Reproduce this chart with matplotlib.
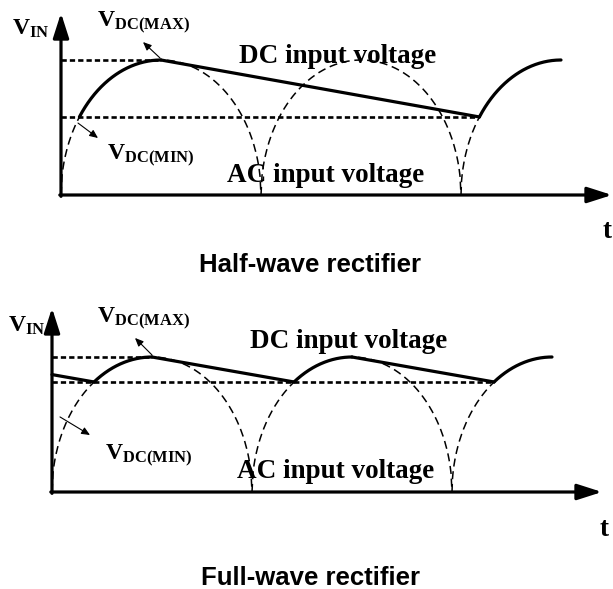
import numpy as np
import matplotlib
matplotlib.use('Agg')
import matplotlib.pyplot as plt

plt.rcParams['mathtext.fontset'] = 'custom'
plt.rcParams['mathtext.rm'] = 'Liberation Serif:bold'
plt.rcParams['mathtext.default'] = 'rm'
plt.rcParams['lines.scale_dashes'] = False

# time in half-cycles of the mains, voltage normalised to the peak
v_peak = 1.0
arch_starts = [0, 1, 2]      # start of each rectified half-sine drawn
t_end = 2.5                  # waveform drawn up to the 3rd peak

# half-wave: cap charged on humps 0 and 2, discharges in between
half_vmin = 0.578
half_charge_arches = [0, 2]
half_discharge_from = [None, 0.5]    # peak the cap discharges from (None = none shown)
# full-wave: cap recharged on every hump
full_vmin = 0.815
full_charge_arches = [0, 1, 2]
full_discharge_from = [-0.5, 0.5, 1.5]

fig = plt.figure(figsize=(6.13, 5.89), dpi=100)


def hump(t0, ta, tb):
    # one rectified half-cycle, drawn as a half-ellipse like the reference
    t = np.linspace(ta, tb, 200)
    u = np.clip(2 * (t - t0 - 0.5), -1, 1)
    return t, v_peak * np.sqrt(1 - u ** 2)


def crossing(t0, level):
    # rising edge of hump t0 reaching the given level
    return t0 + 0.5 - 0.5 * np.sqrt(1 - (level / v_peak) ** 2)


def panel(ax, vmin, charges, discharges, ymax_tip, xmax_tip):
    ax.set_axis_off()
    ax.patch.set_alpha(0)
    # AC input (dashed humps)
    for t0 in arch_starts:
        t, v = hump(t0, t0, min(t0 + 1, t_end))
        ax.plot(t, v, color='k', lw=1.1, dashes=(5.8, 3.4), zorder=2)
    # DC max / DC min reference lines
    ax.plot([0, 0.5], [v_peak, v_peak], color='k', lw=1.9, dashes=(3.8, 2.2), zorder=2)
    t_last = crossing(charges[-1], vmin)
    ax.plot([0, t_last], [vmin, vmin], color='k', lw=1.9, dashes=(3.8, 2.2), zorder=2)
    # DC input: linear discharge, then charge along the hump up to its peak
    for t0, tp in zip(charges, discharges):
        tc = crossing(t0, vmin)
        if tp is not None:
            xa = max(tp, 0)
            ya = v_peak + (vmin - v_peak) * (xa - tp) / (tc - tp)
            ax.plot([xa, tc], [ya, vmin], color='k', lw=2.3, solid_capstyle='round', zorder=3)
        t, v = hump(t0, tc, t0 + 0.5)
        ax.plot(t, v, color='k', lw=2.3, solid_capstyle='round', zorder=3)
    # axes with arrows
    ax.annotate('', xy=(0, ymax_tip), xytext=(0, -0.01),
                arrowprops=dict(arrowstyle='-|>,head_length=0.75,head_width=0.24',
                                lw=2.3, color='k', mutation_scale=20, shrinkA=0, shrinkB=0))
    ax.annotate('', xy=(xmax_tip, 0), xytext=(-0.006, 0),
                arrowprops=dict(arrowstyle='-|>,head_length=0.75,head_width=0.24',
                                lw=2.3, color='k', mutation_scale=20, shrinkA=0, shrinkB=0))


def note_arrow(ax, head, tail):
    ax.annotate('', xy=head, xytext=tail,
                arrowprops=dict(arrowstyle='-|>,head_length=0.5,head_width=0.22',
                                lw=0.8, color='k', mutation_scale=10, shrinkA=0, shrinkB=0))


serif = dict(family='Liberation Serif', weight='bold', color='k')

# ---- half-wave panel ----
ax1 = fig.add_axes([0, 0, 1, 1])
ax1.set_xlim(-61 / 200, (613 - 61) / 200)
ax1.set_ylim((195 - 589) / 135, 195 / 135)
panel(ax1, half_vmin, half_charge_arches, half_discharge_from, 1.348, 2.755)
ax1.text(-0.245, 1.185, r'$V_{IN}$', fontsize=17, va='baseline', **serif)
ax1.text(0.18, 1.244, r'$V_{DC(MAX)}$', fontsize=17, va='baseline', **serif)
ax1.text(0.23, 0.259, r'$V_{DC(MIN)}$', fontsize=17, va='baseline', **serif)
ax1.text(0.89, 0.978, 'DC input voltage', fontsize=19.5, va='baseline', **serif)
ax1.text(0.83, 0.096, 'AC input voltage', fontsize=19.5, va='baseline', **serif)
ax1.text(2.71, -0.319, 't', fontsize=19.5, va='baseline', **serif)
ax1.text(1.245, -0.519, 'Half-wave rectifier', fontsize=18.5, ha='center', va='center',
         family='Liberation Sans', weight='bold')
note_arrow(ax1, (0.41, 1.133), (0.495, 1.015))
note_arrow(ax1, (0.185, 0.422), (0.085, 0.533))

# ---- full-wave panel ----
ax2 = fig.add_axes([0, 0, 1, 1])
ax2.set_xlim(-52 / 200, (613 - 52) / 200)
ax2.set_ylim((492 - 589) / 135, 492 / 135)
panel(ax2, full_vmin, full_charge_arches, full_discharge_from, 1.363, 2.75)
ax2.text(-0.22, 1.185, r'$V_{IN}$', fontsize=17, va='baseline', **serif)
ax2.text(0.225, 1.252, r'$V_{DC(MAX)}$', fontsize=17, va='baseline', **serif)
ax2.text(0.265, 0.237, r'$V_{DC(MIN)}$', fontsize=17, va='baseline', **serif)
ax2.text(0.99, 1.067, 'DC input voltage', fontsize=19.5, va='baseline', **serif)
ax2.text(0.925, 0.104, 'AC input voltage', fontsize=19.5, va='baseline', **serif)
ax2.text(2.74, -0.326, 't', fontsize=19.5, va='baseline', **serif)
ax2.text(1.295, -0.637, 'Full-wave rectifier', fontsize=18.5, ha='center', va='center',
         family='Liberation Sans', weight='bold')
note_arrow(ax2, (0.415, 1.141), (0.5, 1.015))
note_arrow(ax2, (0.19, 0.422), (0.04, 0.556))

fig.savefig('out.png', dpi=100, facecolor='white')
